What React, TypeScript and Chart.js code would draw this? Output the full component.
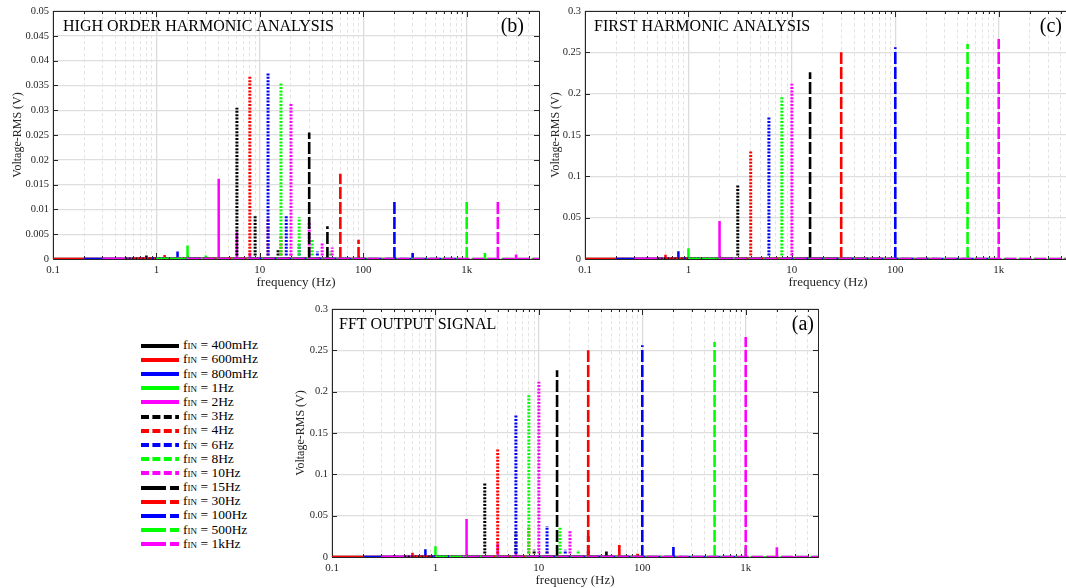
import React, { useEffect, useRef } from 'react';
import { Chart, registerables } from 'chart.js';

Chart.register(...registerables);

const SERIF = '"Liberation Serif", "Times New Roman", "DejaVu Serif", serif';
const INK = '#262626';

// One series per input frequency, in legend order
const seriesLabels = ['400mHz', '600mHz', '800mHz', '1Hz', '2Hz', '3Hz', '4Hz', '6Hz', '8Hz', '10Hz', '15Hz', '30Hz', '100Hz', '500Hz', '1kHz'];
const seriesColors = ['#000000', '#ff0000', '#0000ff', '#00ff00', '#ff00ff', '#000000', '#ff0000', '#0000ff', '#00ff00', '#ff00ff', '#000000', '#ff0000', '#0000ff', '#00ff00', '#ff00ff'];
const seriesStyles = ['solid', 'solid', 'solid', 'solid', 'solid', 'dotted', 'dotted', 'dotted', 'dotted', 'dotted', 'dashed', 'dashed', 'dashed', 'dashed', 'dashed'];

// First harmonic (fundamental) RMS amplitude per series
const fundamentalHz = [0.4, 0.6, 0.8, 1, 2, 3, 4, 6, 8, 10, 15, 30, 100, 500, 1000];
const fundamentalVrms = [0.002, 0.005, 0.0093, 0.013, 0.046, 0.09, 0.13, 0.1715, 0.196, 0.212, 0.226, 0.25, 0.256, 0.26, 0.266];

// Higher-order harmonics per series
const harmonicHz = [
  [0.8, 1.2], [1.2, 1.8], [1.6, 2.4], [2, 3], [4, 6, 8],
  [6, 9, 15], [8, 12, 16, 20], [12, 18, 24, 36], [16, 24, 32, 48], [20, 30, 40, 50],
  [30, 45], [60, 90], [200, 300], [1000, 1500], [2000, 3000],
];
const harmonicVrms = [
  [0.0007, 0.0004], [0.0008, 0.0003], [0.0015, 0.0004], [0.0027, 0.0007], [0.0162, 0.0054, 0.0012],
  [0.0305, 0.0087, 0.002], [0.0369, 0.008, 0.0047, 0.001], [0.0374, 0.0089, 0.003, 0.0015], [0.0354, 0.0084, 0.0039, 0.0015], [0.0313, 0.0075, 0.0034, 0.0023],
  [0.0255, 0.0066], [0.0172, 0.0039], [0.012, 0.0012], [0.0119, 0.0012], [0.0119, 0.0009],
];

// Frequency span of each spectrum's noise floor
const floorFromHz = [0.1, 0.1, 0.2, 0.9, 0.3, 0.5, 0.6, 0.9, 1, 1.4, 2, 3, 8, 1, 2];
const floorToHz = [1.6, 2.4, 3.2, 8, 16, 24, 32, 48, 64, 80, 120, 240, 800, 5000, 5000];

// Axes
const freqMin = 0.1;
const freqMax = 5000;
const xTickValues = [0.1, 1, 10, 100, 1000];
const xTickLabels = ['0.1', '1', '10', '100', '1k'];

const plotDash: Record<string, number[]> = { solid: [], dotted: [2, 1.4], dashed: [12, 3] };
const plotWidth: Record<string, number> = { solid: 2.5, dotted: 3, dashed: 2.6 };
const legendDash: Record<string, string> = { solid: 'none', dotted: '8 3.4', dashed: '25 4' };

// Layout of the plot boxes
const PLOT_W = 486;
const PLOT_H = 248;
const PAD_TOP = 11;
const PAD_RIGHT = 8;
const X_AXIS_H = 31;

type PanelSpec = {
  title: string;
  tag: string;
  tagInset: number;
  titleInset: number;
  yMax: number;
  yStep: number;
  fundamentals: boolean;
  harmonics: boolean;
  left: number;
  top: number;
  yAxisWidth: number;
  yTitlePad: number;
};

const panels: PanelSpec[] = [
  { title: 'HIGH ORDER HARMONIC ANALYSIS', tag: '(b)', tagInset: 15, titleInset: 10, yMax: 0.05, yStep: 0.005, fundamentals: false, harmonics: true, left: 53, top: 11, yAxisWidth: 53, yTitlePad: 10.8 },
  { title: 'FIRST HARMONIC ANALYSIS', tag: '(c)', tagInset: 9, titleInset: 9, yMax: 0.3, yStep: 0.05, fundamentals: true, harmonics: false, left: 585, top: 11, yAxisWidth: 40, yTitlePad: 3.4 },
  { title: 'FFT OUTPUT SIGNAL', tag: '(a)', tagInset: 4, titleInset: 7, yMax: 0.3, yStep: 0.05, fundamentals: true, harmonics: true, left: 332, top: 309, yAxisWidth: 40, yTitlePad: 1.8 },
];

const isDecade = (v: number) => {
  const l = Math.log10(v);
  return Math.abs(l - Math.round(l)) < 1e-6;
};

function buildDatasets(p: PanelSpec) {
  return seriesLabels.map((label, i) => {
    const pts: { x: number; y: number | null }[] = [
      { x: floorFromHz[i], y: 0 },
      { x: floorToHz[i], y: 0 },
      { x: floorToHz[i], y: null },
    ];
    const spikes: [number, number][] = [];
    if (p.fundamentals) spikes.push([fundamentalHz[i], fundamentalVrms[i]]);
    if (p.harmonics) harmonicHz[i].forEach((f, k) => spikes.push([f, harmonicVrms[i][k]]));
    spikes.forEach(([f, v]) => {
      pts.push({ x: f, y: 0 }, { x: f, y: v }, { x: f, y: null });
    });
    return {
      label,
      data: pts,
      borderColor: seriesColors[i],
      backgroundColor: seriesColors[i],
      borderWidth: plotWidth[seriesStyles[i]],
      borderDash: plotDash[seriesStyles[i]],
      borderCapStyle: 'butt' as const,
      borderJoinStyle: 'bevel' as const,
      pointRadius: 0,
      tension: 0,
      spanGaps: false,
      fill: false,
      order: seriesLabels.length - i,
    };
  });
}

function ChartPanel({ p }: { p: PanelSpec }) {
  const ref = useRef<HTMLCanvasElement>(null);
  const w = p.yAxisWidth + PLOT_W + PAD_RIGHT;
  const h = PAD_TOP + PLOT_H + X_AXIS_H;

  useEffect(() => {
    const canvas = ref.current;
    if (!canvas) return;

    const frame = {
      id: 'frame',
      beforeDatasetsDraw(chart: any) {
        const { ctx, chartArea: a } = chart;
        const xs = chart.scales.x;
        const ys = chart.scales.y;
        ctx.save();
        ctx.strokeStyle = INK;
        ctx.lineWidth = 1;
        ctx.setLineDash([]);
        ctx.beginPath();
        for (const t of xs.ticks) {
          const px = Math.round(xs.getPixelForValue(t.value)) + 0.5;
          const len = isDecade(t.value) ? 6 : 3;
          ctx.moveTo(px, a.top);
          ctx.lineTo(px, a.top + len);
          ctx.moveTo(px, a.bottom);
          ctx.lineTo(px, a.bottom - len);
        }
        for (const t of ys.ticks) {
          const py = Math.round(ys.getPixelForValue(t.value)) + 0.5;
          ctx.moveTo(a.left, py);
          ctx.lineTo(a.left + 5, py);
          ctx.moveTo(a.right, py);
          ctx.lineTo(a.right - 5, py);
        }
        ctx.stroke();
        ctx.strokeRect(
          Math.round(a.left) + 0.5,
          Math.round(a.top) + 0.5,
          Math.round(a.right - a.left),
          Math.round(a.bottom - a.top)
        );
        ctx.restore();
      },
      afterDraw(chart: any) {
        const { ctx, chartArea: a } = chart;
        ctx.save();
        ctx.fillStyle = '#000000';
        ctx.textBaseline = 'alphabetic';
        ctx.font = `16px ${SERIF}`;
        ctx.textAlign = 'left';
        ctx.fillText(p.title, a.left + p.titleInset, a.top + 19.5);
        ctx.font = `20px ${SERIF}`;
        ctx.textAlign = 'right';
        ctx.fillText(p.tag, a.right - p.tagInset, a.top + 21);
        ctx.restore();
      },
    };

    const chart = new Chart(canvas, {
      type: 'line',
      data: { datasets: buildDatasets(p) as any },
      options: {
        animation: false,
        responsive: false,
        events: [],
        layout: { padding: { top: PAD_TOP, right: PAD_RIGHT, left: 0, bottom: 0 } },
        plugins: { legend: { display: false }, tooltip: { enabled: false } },
        scales: {
          x: {
            type: 'logarithmic',
            min: freqMin,
            max: freqMax,
            afterBuildTicks: (scale: any) => {
              const ticks: { value: number; major: boolean }[] = [];
              for (let e = -1; e <= 3; e++) {
                for (let m = 1; m <= 9; m++) {
                  const v = +(m * Math.pow(10, e)).toPrecision(6);
                  if (v >= freqMin - 1e-9 && v <= freqMax + 1e-9) ticks.push({ value: v, major: m === 1 });
                }
              }
              scale.ticks = ticks;
            },
            afterFit: (scale: any) => {
              scale.height = X_AXIS_H;
            },
            ticks: {
              autoSkip: false,
              maxRotation: 0,
              minRotation: 0,
              padding: 5,
              color: INK,
              font: { family: SERIF, size: 11 },
              callback: (value: any) => {
                const v = Number(value);
                const i = xTickValues.findIndex((t) => Math.abs(t - v) < t * 1e-6);
                return i >= 0 ? xTickLabels[i] : '';
              },
            },
            grid: {
              drawTicks: false,
              color: (c: any) => (c.tick && isDecade(c.tick.value) ? '#dcdcdc' : '#e4e4e4'),
              lineWidth: (c: any) => (c.tick && isDecade(c.tick.value) ? 1.3 : 1),
            },
            border: {
              display: false,
              dash: (c: any) => (c.tick && !isDecade(c.tick.value) ? [3.5, 2.5] : []),
            },
            title: {
              display: true,
              text: 'frequency (Hz)',
              color: INK,
              font: { family: SERIF, size: 13 },
              padding: { top: 0, bottom: 0 },
            },
          },
          y: {
            type: 'linear',
            min: 0,
            max: p.yMax,
            afterFit: (scale: any) => {
              scale.width = p.yAxisWidth;
            },
            ticks: {
              stepSize: p.yStep,
              padding: 4,
              color: INK,
              font: { family: SERIF, size: 10.5 },
              callback: (value: any) => String(+Number(value).toFixed(4)),
            },
            grid: { drawTicks: false, color: '#dedede', lineWidth: 1.3 },
            border: { display: false },
            title: {
              display: true,
              text: 'Voltage-RMS (V)',
              color: INK,
              font: { family: SERIF, size: 12 },
              padding: { top: p.yTitlePad, bottom: 0 },
            },
          },
        },
      } as any,
      plugins: [frame],
    });
    return () => chart.destroy();
  }, [p]);

  return (
    <canvas
      ref={ref}
      width={w}
      height={h}
      style={{ position: 'absolute', left: p.left - p.yAxisWidth, top: p.top - PAD_TOP, width: w, height: h }}
    />
  );
}

function Legend() {
  return (
    <div style={{ position: 'absolute', left: 141, top: 338.6, fontFamily: SERIF, fontSize: 13.5, color: '#000' }}>
      {seriesLabels.map((label, i) => (
        <div key={label} style={{ height: 14.2, display: 'flex', alignItems: 'center', whiteSpace: 'nowrap' }}>
          <svg width={38} height={6} style={{ display: 'block', flex: 'none' }}>
            <line
              x1={0}
              y1={3}
              x2={38}
              y2={3}
              stroke={seriesColors[i]}
              strokeWidth={4}
              strokeDasharray={legendDash[seriesStyles[i]]}
            />
          </svg>
          <span style={{ marginLeft: 4, lineHeight: '14px' }}>
            f<span style={{ fontSize: 9 }}>IN</span> = {label}
          </span>
        </div>
      ))}
    </div>
  );
}

export default function App() {
  return (
    <div style={{ position: 'fixed', left: 0, top: 0, width: 1066, height: 588, overflow: 'hidden', background: '#ffffff' }}>
      {panels.map((p) => (
        <ChartPanel key={p.tag} p={p} />
      ))}
      <Legend />
    </div>
  );
}
